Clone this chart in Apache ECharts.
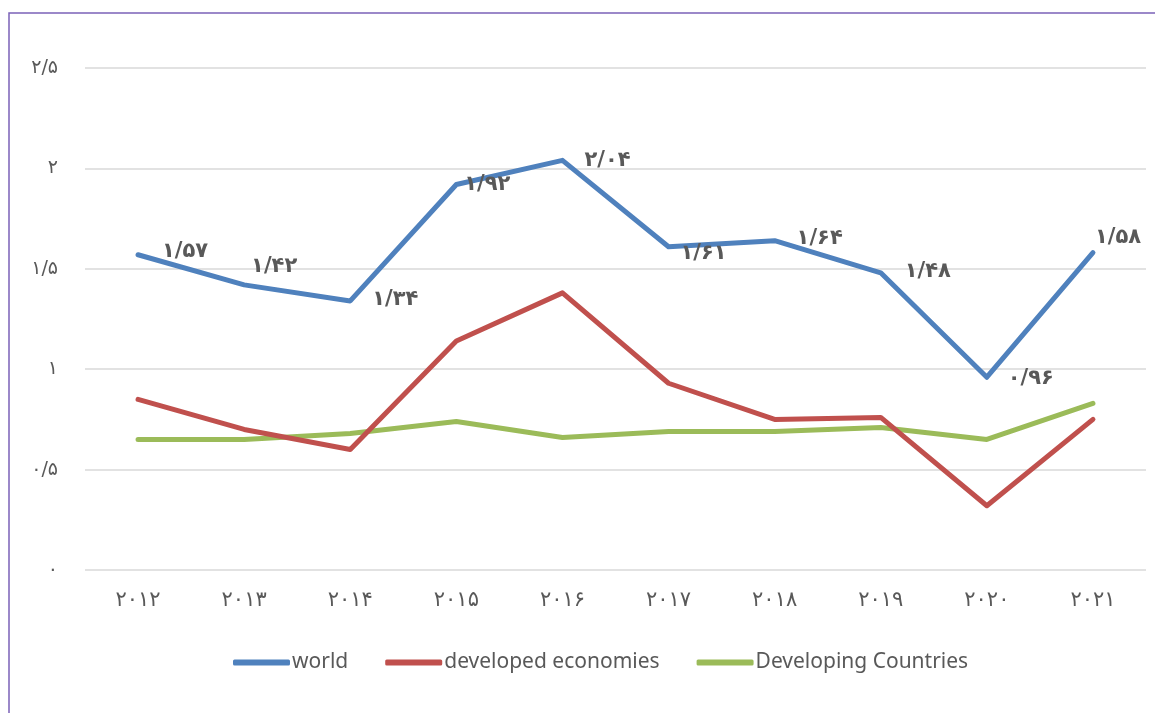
<!DOCTYPE html>
<html>
<head>
<meta charset="utf-8">
<script src="https://cdn.jsdelivr.net/npm/echarts@6/dist/echarts.min.js"></script>
<style>
  html, body { margin: 0; padding: 0; background: #fff; }
  #container { width: 1155px; height: 713px; }
</style>
</head>
<body>
<div id="container"></div>
<script>
var years = ['2012', '2013', '2014', '2015', '2016', '2017', '2018', '2019', '2020', '2021'];
var world = [1.57, 1.42, 1.34, 1.92, 2.04, 1.61, 1.64, 1.48, 0.96, 1.58];
var developed = [0.85, 0.70, 0.60, 1.14, 1.38, 0.93, 0.75, 0.76, 0.32, 0.75];
var developing = [0.65, 0.65, 0.68, 0.74, 0.66, 0.69, 0.69, 0.71, 0.65, 0.83];

// label offsets for the world series (x, y in px)
var labelOffsets = [[47, -3], [30, -18], [45, -1], [31, 0], [45, 0], [35, 7], [45, -2], [47, -1], [44, 1], [25, -15]];

var fa = '۰۱۲۳۴۵۶۷۸۹';
function toFa(s) {
    return String(s).replace(/[0-9]/g, function (d) { return fa[+d]; }).replace('.', '/');
}

var dom = document.getElementById('container');
var myChart = echarts.init(dom);
var textColor = '#595959';
var font = '"Noto Sans", sans-serif';
var faFont = '"DejaVu Sans", sans-serif';

var worldData = world.map(function (v, i) {
    return {
        value: v,
        label: { offset: labelOffsets[i] }
    };
});

var option = {
    backgroundColor: '#fff',
    animation: false,
    textStyle: { fontFamily: font },
    graphic: [
        {
            type: 'polyline',
            shape: { points: [[9, 713], [9, 13], [1155, 13]] },
            style: { stroke: '#7b62b8', lineWidth: 1.5, fill: null },
            silent: true
        }
    ],
    grid: { left: 85, right: 9, top: 68, bottom: 143 },
    legend: {
        bottom: 35,
        left: 228,
        itemWidth: 57,
        itemHeight: 6,
        itemGap: 37,
        icon: 'roundRect',
        textStyle: { color: textColor, fontSize: 21, fontFamily: font, padding: [0, 0, 0, -3] },
        data: ['world', 'developed economies', 'Developing Countries']
    },
    xAxis: {
        type: 'category',
        data: years,
        boundaryGap: true,
        axisLine: { show: false },
        axisTick: { show: false },
        axisLabel: {
            color: textColor,
            fontSize: 21,
            margin: 20,
            fontFamily: faFont,
            formatter: function (v) { return toFa(v); }
        }
    },
    yAxis: {
        type: 'value',
        min: 0,
        max: 2.5,
        interval: 0.5,
        axisLine: { show: false },
        axisTick: { show: false },
        splitLine: { lineStyle: { color: '#d9d9d9', width: 1.5 } },
        axisLabel: {
            color: textColor,
            fontSize: 19,
            margin: 27,
            fontFamily: faFont,
            formatter: function (v) { return toFa(v); }
        }
    },
    series: [
        {
            name: 'world',
            type: 'line',
            data: worldData,
            symbol: 'circle',
            symbolSize: 1,
            showSymbol: true,
            showAllSymbol: true,
            lineStyle: { color: '#4f81bd', width: 5, cap: 'round', join: 'round' },
            itemStyle: { color: '#4f81bd' },
            label: {
                show: true,
                position: 'inside',
                align: 'center',
                verticalAlign: 'middle',
                color: textColor,
                fontSize: 21,
                fontWeight: 'bold',
                fontFamily: faFont,
                formatter: function (p) { return toFa(p.value.toFixed(2)); }
            },
            z: 3
        },
        {
            name: 'developed economies',
            type: 'line',
            data: developed,
            symbol: 'none',
            lineStyle: { color: '#c0504d', width: 5, cap: 'round', join: 'round' },
            itemStyle: { color: '#c0504d' },
            z: 2
        },
        {
            name: 'Developing Countries',
            type: 'line',
            data: developing,
            symbol: 'none',
            lineStyle: { color: '#9bbb59', width: 5, cap: 'round', join: 'round' },
            itemStyle: { color: '#9bbb59' },
            z: 1
        }
    ]
};

myChart.setOption(option);
</script>
</body>
</html>
